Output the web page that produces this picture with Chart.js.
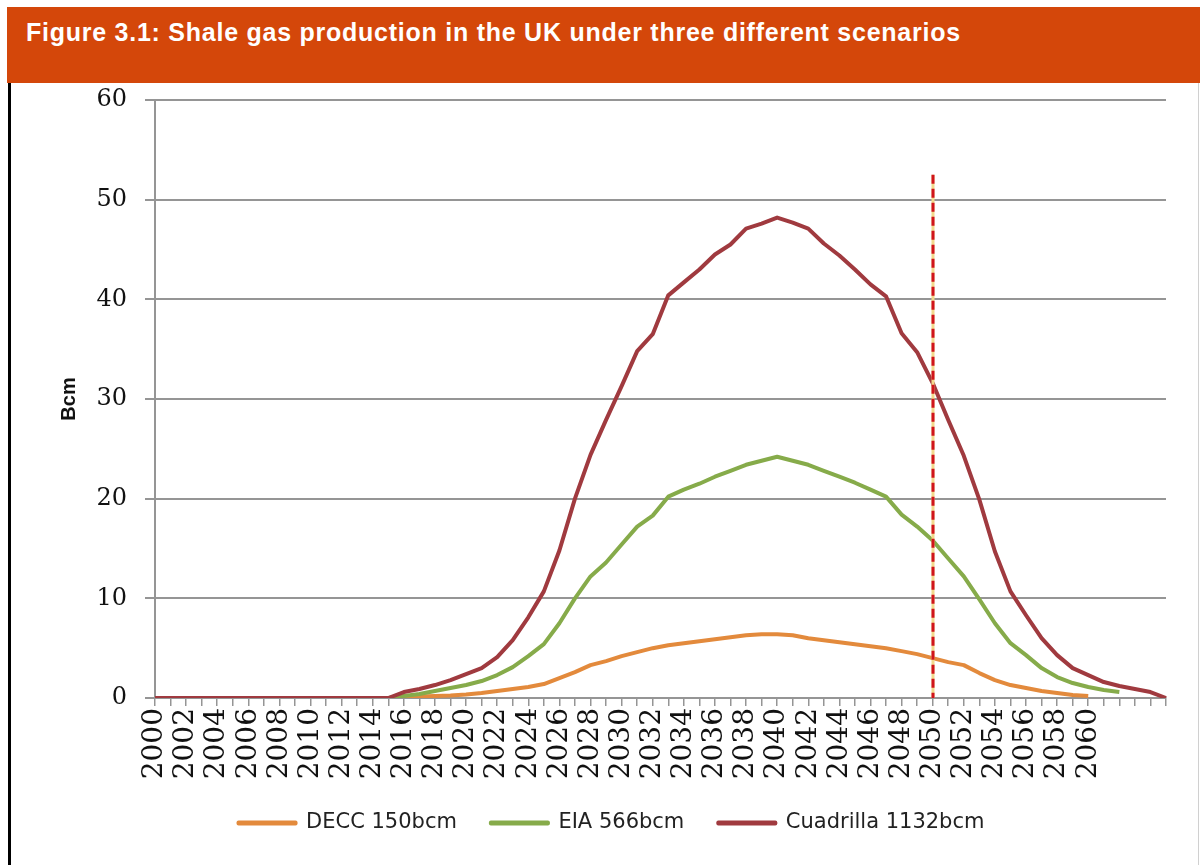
<!DOCTYPE html>
<html>
<head>
<meta charset="utf-8">
<script src="https://cdn.jsdelivr.net/npm/chart.js@4/dist/chart.umd.min.js"></script>
<style>
  html, body { margin: 0; padding: 0; background: #fff; }
  body { width: 1200px; height: 865px; position: relative; overflow: hidden; }
  #header {
    position: absolute; left: 7px; top: 7px; width: 1193px; height: 76px;
    background: #d4470a;
  }
  #header h1 {
    margin: 0; position: absolute; left: 19px; top: 11px;
    font: bold 25px "Liberation Sans", Arial, sans-serif; color: #fff;
    letter-spacing: 0.75px; white-space: nowrap;
  }
  #frame {
    position: absolute; left: 8px; top: 83px; width: 1187px; height: 782px;
    border-left: 3px solid #000; border-right: 1px solid #d0d0d0;
  }
  #wrap { position: absolute; left: 12px; top: 83px; width: 1185px; height: 782px; }
</style>
</head>
<body>
<div id="header"><h1>Figure 3.1: Shale gas production in the UK under three different scenarios</h1></div>
<div id="frame"></div>
<div id="wrap"><canvas id="chart"></canvas></div>
<script>
// years 2000 - 2065, labels shown every other year up to 2060
const years = Array.from({length: 66}, (_, i) => String(2000 + i));
const lastLabelYear = 2060;

const seriesNames = ['DECC 150bcm', 'EIA 566bcm', 'Cuadrilla 1132bcm'];
const seriesColors = ['#e38a3c', '#86ab4a', '#a03a3f'];

// Bcm per year
const decc = [0, 0, 0, 0, 0, 0, 0, 0, 0, 0, 0, 0, 0, 0, 0, 0,
  0.1, 0.15, 0.2, 0.25, 0.35, 0.5, 0.7, 0.9, 1.1, 1.4,
  2.0, 2.6, 3.3, 3.7, 4.2, 4.6, 5.0, 5.3, 5.5, 5.7,
  5.9, 6.1, 6.3, 6.4, 6.4, 6.3, 6.0, 5.8, 5.6, 5.4,
  5.2, 5.0, 4.7, 4.4, 4.0, 3.6, 3.3, 2.5, 1.8, 1.3,
  1.0, 0.7, 0.5, 0.3, 0.2, null, null, null, null, null];

const eia = [0, 0, 0, 0, 0, 0, 0, 0, 0, 0, 0, 0, 0, 0, 0, 0,
  0.2, 0.4, 0.7, 1.0, 1.3, 1.7, 2.3, 3.1, 4.2, 5.4,
  7.5, 10.0, 12.2, 13.6, 15.4, 17.2, 18.3, 20.2, 20.9, 21.5,
  22.2, 22.8, 23.4, 23.8, 24.2, 23.8, 23.4, 22.8, 22.2, 21.6,
  20.9, 20.2, 18.4, 17.2, 15.8, 14.0, 12.2, 9.9, 7.5, 5.5,
  4.3, 3.0, 2.1, 1.5, 1.1, 0.8, 0.6, null, null, null];

const cuadrilla = [0, 0, 0, 0, 0, 0, 0, 0, 0, 0, 0, 0, 0, 0, 0, 0,
  0.6, 0.9, 1.3, 1.8, 2.4, 3.0, 4.1, 5.8, 8.1, 10.7,
  14.8, 20.0, 24.4, 27.9, 31.3, 34.8, 36.5, 40.4, 41.7, 43.0,
  44.5, 45.5, 47.1, 47.6, 48.2, 47.7, 47.1, 45.6, 44.4, 43.0,
  41.5, 40.3, 36.6, 34.7, 31.6, 27.9, 24.3, 19.9, 14.7, 10.7,
  8.3, 6.0, 4.3, 3.0, 2.3, 1.6, 1.2, 0.9, 0.6, 0.0];

// dashed marker at 2050
const cutoffYear = '2050';
const cutoffTop = 52.5;

const cutoffLine = {
  id: 'cutoffLine',
  afterDatasetsDraw(chart) {
    const {ctx, scales: {x, y}} = chart;
    const px = Math.round(x.getPixelForValue(years.indexOf(cutoffYear)));
    const top = y.getPixelForValue(cutoffTop);
    const bottom = y.getPixelForValue(0);
    ctx.save();
    ctx.lineWidth = 3;
    ctx.strokeStyle = '#f2d98c';
    ctx.beginPath(); ctx.moveTo(px, top); ctx.lineTo(px, bottom); ctx.stroke();
    ctx.strokeStyle = '#d0141c';
    ctx.setLineDash([9, 5]);
    ctx.beginPath(); ctx.moveTo(px, top); ctx.lineTo(px, bottom); ctx.stroke();
    ctx.restore();
  }
};

const allSeries = [decc, eia, cuadrilla];
const datasets = allSeries.map((d, i) => ({
  label: seriesNames[i],
  data: d,
  borderColor: seriesColors[i],
  backgroundColor: seriesColors[i],
  borderWidth: 4,
  pointRadius: 0,
  tension: 0,
  fill: false,
  borderJoinStyle: 'round',
  order: 3 - i   // Cuadrilla drawn on top
}));

const grey = '#959595';

new Chart(document.getElementById('chart'), {
  type: 'line',
  data: { labels: years, datasets: datasets },
  options: {
    responsive: true,
    maintainAspectRatio: false,
    animation: false,
    layout: { padding: { left: 45, right: 31, top: 17, bottom: 21.5 } },
    plugins: {
      tooltip: { enabled: false },
      legend: {
        position: 'bottom',
        reverse: true,
        labels: {
          boxWidth: 57,
          boxHeight: 1,
          padding: 34,
          color: '#222',
          font: { family: '"DejaVu Sans", sans-serif', size: 21 }
        }
      }
    },
    scales: {
      x: {
        offset: false,
        afterFit: (s) => { s.height = 80.5; s.paddingRight = 0; s.paddingLeft = 0; },
        grid: { drawOnChartArea: false, drawTicks: true, tickLength: 8, color: grey, lineWidth: 1.5 },
        border: { color: grey, width: 2 },
        ticks: {
          autoSkip: false,
          minRotation: 90,
          maxRotation: 90,
          padding: 2,
          color: '#111',
          font: { family: '"DejaVu Serif", serif', size: 28 },
          callback: function (v, i) {
            const yr = Number(years[i]);
            return (yr % 2 === 0 && yr <= lastLabelYear) ? years[i] : '';
          }
        }
      },
      y: {
        min: 0,
        max: 60,
        afterFit: (s) => { s.width = 98; s.paddingTop = 0; s.paddingBottom = 0; },
        grid: { color: grey, lineWidth: 2, tickLength: 10 },
        border: { color: grey, width: 2 },
        ticks: {
          stepSize: 10,
          padding: 18,
          color: '#111',
          font: { family: '"DejaVu Serif", serif', size: 24 }
        },
        title: {
          display: true,
          text: 'Bcm',
          color: '#111',
          padding: 0,
          font: { family: '"Liberation Sans", Arial, sans-serif', size: 20, weight: 'bold' }
        }
      }
    }
  },
  plugins: [cutoffLine]
});
</script>
</body>
</html>
